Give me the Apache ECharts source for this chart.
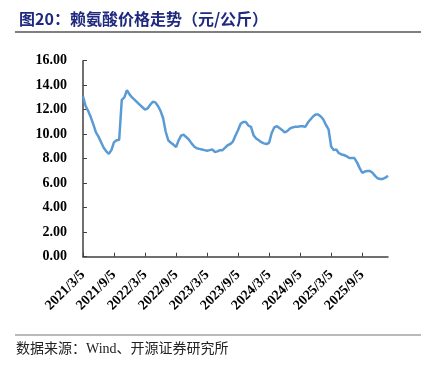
<!DOCTYPE html>
<html>
<head>
<meta charset="utf-8">
<script src="https://cdn.jsdelivr.net/npm/echarts@6/dist/echarts.min.js"></script>
<style>html,body{margin:0;padding:0;background:#fff;}#c{width:433px;height:371px;}</style>
</head>
<body>
<div id="c"></div>
<script>
// Semi-monthly dates from 2021/3/5 to 2026/2/5
const categories = [];
(function(){
  let y = 2021, m = 3;
  for (let k = 0; k < 119; k++) {
    categories.push(y + '/' + m + '/' + (k % 2 === 0 ? 5 : 20));
    if (k % 2 === 1) { m++; if (m > 12) { m = 1; y++; } }
  }
})();

const lysinePrice = [
  13.1, 12.3, 11.9, 11.4, 10.8, 10.15, 9.8, 9.35, 8.9, 8.6,
  8.4, 8.7, 9.35, 9.5, 9.55, 12.8, 13.0, 13.6, 13.25, 13.0,
  12.8, 12.6, 12.4, 12.2, 12.0, 12.1, 12.4, 12.65, 12.6, 12.3,
  11.9, 11.3, 10.2, 9.5, 9.3, 9.15, 8.95, 9.5, 9.9, 9.95,
  9.75, 9.55, 9.25, 9.0, 8.85, 8.8, 8.75, 8.7, 8.65, 8.7,
  8.75, 8.55, 8.6, 8.7, 8.7, 8.9, 9.1, 9.2, 9.4, 9.9,
  10.35, 10.85, 11.0, 11.0, 10.7, 10.6, 9.9, 9.65, 9.5, 9.35,
  9.25, 9.2, 9.3, 10.1, 10.55, 10.65, 10.5, 10.35, 10.15, 10.25,
  10.45, 10.55, 10.6, 10.6, 10.65, 10.65, 10.6, 10.95, 11.2, 11.45,
  11.6, 11.6, 11.45, 11.2, 10.75, 10.4, 9.0, 8.7, 8.75, 8.45,
  8.35, 8.3, 8.2, 8.05, 8.05, 8.05, 7.7, 7.25, 6.85, 6.95,
  7.0, 7.0, 6.85, 6.6, 6.4, 6.35, 6.35, 6.45, 6.6
];

const yTicks = [0, 2, 4, 6, 8, 10, 12, 14, 16];
const titleText = '图20：赖氨酸价格走势（元/公斤）';
const sourceText = '数据来源：Wind、开源证券研究所';

const chart = echarts.init(document.getElementById('c'));
const labelInterval = function(idx){ return idx % 12 === 0; };
chart.setOption({
  animation: false,
  backgroundColor: '#fff',
  title: {
    text: titleText,
    left: 14, top: 6,
    textStyle: { fontFamily: '"Noto Sans CJK SC", sans-serif', fontSize: 16, fontWeight: 'bold', color: '#1f2a7f' }
  },
  graphic: [
    { type: 'line', shape: { x1: 15, y1: 32, x2: 421, y2: 32 }, style: { stroke: '#555', lineWidth: 1.5 } },
    { type: 'line', shape: { x1: 15, y1: 335, x2: 421, y2: 335 }, style: { stroke: '#777', lineWidth: 1.2 } },
    { type: 'text', left: 16, top: 342, style: { text: sourceText, fontFamily: '"Liberation Serif", "Noto Sans CJK SC", serif', fontSize: 14, fill: '#222' } }
  ],
  grid: { left: 83, right: 45, top: 60.7, bottom: 114.3, containLabel: false },
  xAxis: {
    type: 'category',
    data: categories,
    boundaryGap: false,
    axisLine: { lineStyle: { color: '#404040', width: 1.5 } },
    axisTick: { inside: true, length: 4, interval: labelInterval, lineStyle: { color: '#404040' } },
    axisLabel: {
      interval: labelInterval,
      rotate: 45,
      margin: 16,
      fontFamily: '"Liberation Serif", serif',
      fontWeight: 'bold',
      fontSize: 14,
      color: '#000'
    },
    splitLine: { show: false }
  },
  yAxis: {
    type: 'value',
    min: yTicks[0], max: yTicks[yTicks.length - 1], interval: 2,
    axisLine: { show: true, lineStyle: { color: '#404040', width: 1.5 } },
    axisTick: { show: true, inside: true, length: 4, lineStyle: { color: '#404040' } },
    axisLabel: {
      margin: 16,
      formatter: function(v){ return v.toFixed(2); },
      fontFamily: '"Liberation Serif", serif',
      fontWeight: 'bold',
      fontSize: 14,
      color: '#000'
    },
    splitLine: { show: false }
  },
  series: [{
    type: 'line',
    data: lysinePrice,
    symbol: 'none',
    smooth: false,
    lineStyle: { color: '#5B9BD5', width: 2.5 }
  }]
});
</script>
</body>
</html>
